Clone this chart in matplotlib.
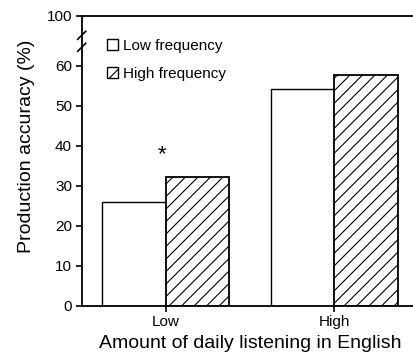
import matplotlib
matplotlib.use("Agg")
import matplotlib.pyplot as plt
from matplotlib.patches import Patch
from matplotlib.path import Path
from matplotlib.backend_bases import GraphicsContextBase

# denser single-slash hatch to match reference spacing
def _hatch_path(self, density=16):
    h = self.get_hatch()
    if h is None:
        return None
    return Path.hatch(h, density)
GraphicsContextBase.get_hatch_path = _hatch_path

plt.rcParams['font.family'] = ['Liberation Sans', 'DejaVu Sans']
plt.rcParams['hatch.linewidth'] = 0.8

categories = ["Low", "High"]
low_freq = [26.0, 54.3]
high_freq = [32.2, 57.6]
series_labels = ["Low frequency", "High frequency"]
ytick_values = [0, 10, 20, 30, 40, 50, 60, 72.5]
ytick_labels = ["0", "10", "20", "30", "40", "50", "60", "100"]
star_label = "*"
star_value = 37.8

W, H = 414, 356
fig = plt.figure(figsize=(W / 100, H / 100), dpi=100)
ax = fig.add_axes([81.7 / W, 1 - 305.7 / H, (418.5 - 81.7) / W, (305.7 - 15.7) / H])

x = list(range(len(categories)))
bw = 0.377
ax.bar(x, low_freq, width=-bw, align='edge', color='white', edgecolor='black', linewidth=1.0, zorder=2)
ax.bar(x, high_freq, width=bw, align='edge', color='white', edgecolor='black', linewidth=1.3,
       hatch='/', zorder=2)

ax.set_xlim(-0.5, 1.5)
ax.set_ylim(0, 72.5)
ax.set_xticks(x)
ax.set_xticklabels(categories, fontsize=11)
ax.set_yticks(ytick_values)
ax.set_yticklabels(ytick_labels, fontsize=11)
ax.tick_params(direction='out', length=4, width=1.2, pad=3)

for s in ['left', 'bottom', 'top']:
    ax.spines[s].set_linewidth(1.3)
ax.spines['right'].set_visible(False)

ax.set_xlabel("Amount of daily listening in English", fontsize=14, labelpad=4)
ax.set_ylabel("Production accuracy (%)", fontsize=14)
ax.yaxis.set_label_coords(-0.14, 0.55)

ax.text(-0.025, star_value, star_label, fontsize=16, ha='center', va='center')

# axis break marks
for yb in [64.6, 67.6]:
    ax.plot([-0.012, 0.012], [yb - 1.0, yb + 1.0], transform=ax.get_yaxis_transform(),
            color='black', lw=1.2, clip_on=False)

handles = [Patch(facecolor='white', edgecolor='black', linewidth=1.0),
           Patch(facecolor='white', edgecolor='black', linewidth=1.0, hatch='/')]
ax.legend(handles, series_labels, loc='upper left', bbox_to_anchor=(0.075, 0.92),
          frameon=False, fontsize=11, handlelength=0.72, handleheight=0.72,
          handletextpad=0.35, labelspacing=0.9, borderaxespad=0, borderpad=0)

fig.savefig("out.png", dpi=100)
